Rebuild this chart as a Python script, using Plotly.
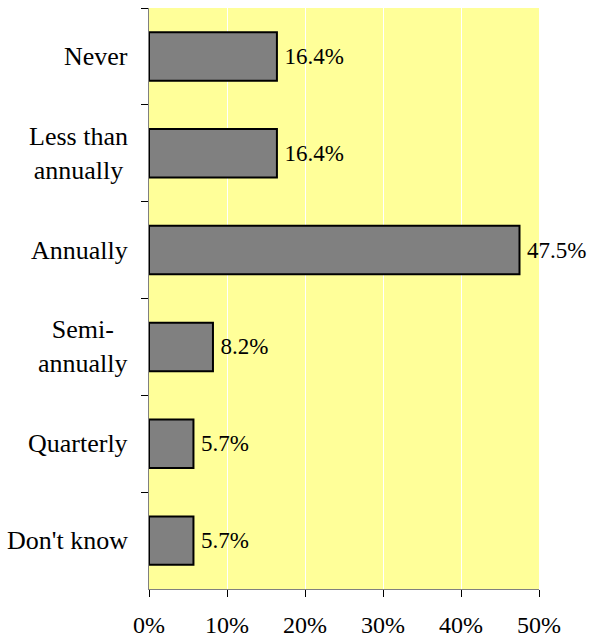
import plotly.graph_objects as go

categories = ["Never", "Less than<br>annually", "Annually", "Semi-<br>annually", "Quarterly", "Don't know"]
values = [16.4, 16.4, 47.5, 8.2, 5.7, 5.7]
value_labels = ["16.4%", "16.4%", "47.5%", "8.2%", "5.7%", "5.7%"]
x_ticks = [0, 10, 20, 30, 40, 50]
x_tick_labels = ["0%", "10%", "20%", "30%", "40%", "50%"]

font_family = "Liberation Serif"

fig = go.Figure(go.Bar(
    x=values,
    y=categories,
    orientation="h",
    width=0.5,
    marker=dict(color="#808080", line=dict(color="#000000", width=2)),
    text=["\u2009" + t for t in value_labels],
    textposition="outside",
    textfont=dict(family=font_family, size=23, color="#000000"),
    cliponaxis=False,
))

# category labels as centred, right-anchored text next to the axis
for cat in categories:
    fig.add_annotation(
        x=0, xref="paper", xanchor="right", xshift=-19,
        y=cat, yref="y", yanchor="middle",
        text=cat, showarrow=False, align="center",
        font=dict(family=font_family, size=26, color="#000000"),
    )

fig.update_layout(
    width=590,
    height=639,
    margin=dict(l=149, r=51, t=8, b=50, autoexpand=False),
    paper_bgcolor="#FFFFFF",
    plot_bgcolor="#FFFF99",
    showlegend=False,
    font=dict(family=font_family, size=23, color="#000000"),
)

fig.update_xaxes(
    range=[0, 50],
    tickvals=x_ticks,
    ticktext=x_tick_labels,
    showgrid=True,
    gridcolor="#FFFFFF",
    gridwidth=1,
    showline=True,
    linecolor="#808080",
    linewidth=1,
    ticks="outside",
    ticklen=7,
    tickcolor="#000000",
    tickfont=dict(family=font_family, size=24, color="#000000"),
    zeroline=False,
    ticklabelstandoff=7,
    automargin=False,
)

fig.update_yaxes(
    categoryorder="array",
    categoryarray=categories,
    autorange="reversed",
    showgrid=False,
    showline=True,
    linecolor="#808080",
    linewidth=1,
    ticks="outside",
    tickson="boundaries",
    ticklen=7,
    tickcolor="#000000",
    showticklabels=False,
    automargin=False,
)

fig.write_html(
    "out.html",
    config={"displayModeBar": False},
    post_script="document.body.style.margin='0';document.body.style.overflow='hidden';",
)
